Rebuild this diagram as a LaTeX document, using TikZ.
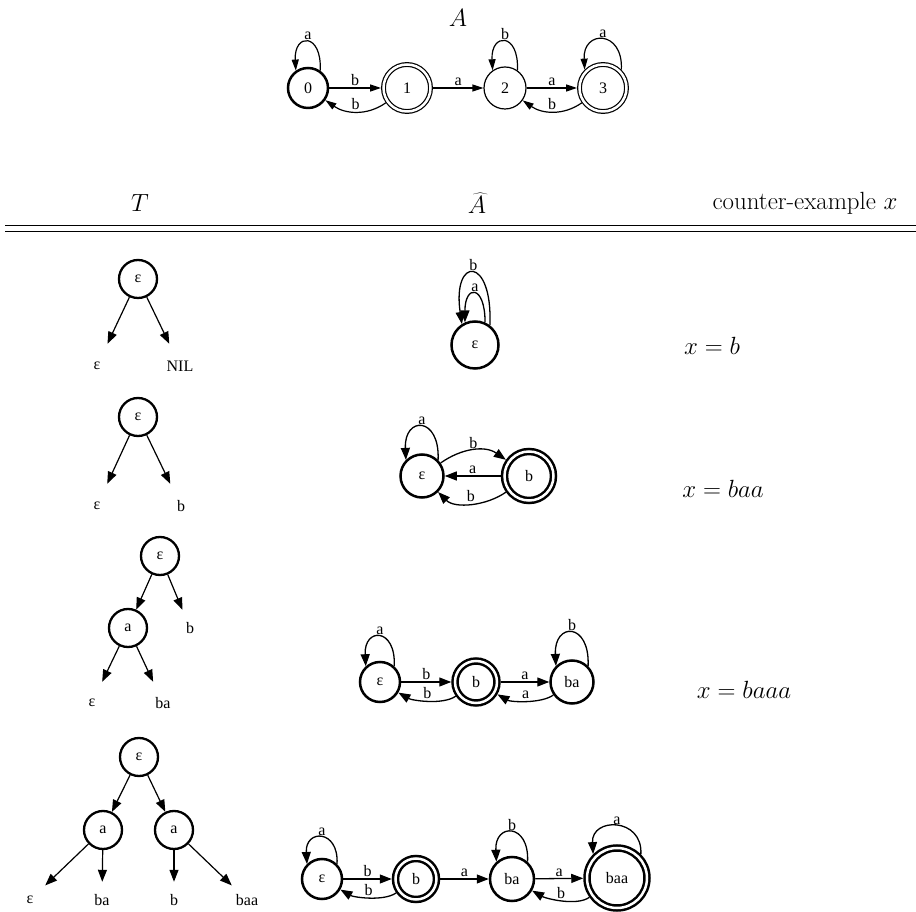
\documentclass[tikz,border=0pt]{standalone}
\usepackage{fontspec}
\usetikzlibrary{arrows.meta, positioning}
\newfontfamily\gvfont{Liberation Serif}

\begin{document}
\begin{tikzpicture}[x=1pt, y=1pt,
  gv/.style={font=\gvfont\fontsize{16}{18}\selectfont},
  hdr/.style={font=\fontsize{24.88}{30}\selectfont},
  lab/.style={gv, inner sep=1.5pt},
  st/.style={circle, draw, line width=1.2pt, minimum size=42pt, inner sep=0pt, gv},
  acc/.style={double, double distance=2.5pt, outer sep=2.45pt},
  hs/.style={circle, draw, line width=2.5pt, inner sep=0pt, gv},
  hacc/.style={double, double distance=2.5pt, outer sep=3.75pt},
  tn/.style={circle, draw, line width=2.3pt, minimum size=38pt, inner sep=0pt, gv},
  leaf/.style={gv, minimum width=30pt, minimum height=#1, inner sep=0pt},
  leaf/.default=44pt,
  edge/.style={line width=1.2pt, -{Triangle[length=11pt, width=7pt]}},
  hedge/.style={line width=1.3pt, -{Triangle[length=12pt, width=9pt]}},
  tedge/.style={line width=1.2pt, -{Triangle[length=12pt, width=9pt]}}]
  \useasboundingbox (0,0) rectangle (916,911);

  % Automaton A
  \node[hdr] (Alab) at (458, 893) {$A$};
  \node[st, line width=2.5pt, minimum size=40pt] (q0) at (308, 823) {0};
  \node[st, acc, minimum size=47pt] (q1) at (407, 823) {1};
  \node[st] (q2) at (505, 823) {2};
  \node[st, acc, minimum size=47pt] (q3) at (603, 823) {3};
  \draw[edge] (q0) -- node[lab, above] {b} (q1);
  \draw[edge] (q1) to[out=215, in=-35] node[lab, above] {b} (q0);
  \draw[edge] (q1) -- node[lab, above] {a} (q2);
  \draw[edge] (q2) -- node[lab, above] {a} (q3);
  \draw[edge] (q3) to[out=215, in=-35] node[lab, above] {b} (q2);
  \draw[edge] (q0.55) .. controls +(2,38) and +(-2,38) .. (q0.125) node[lab, midway, above] {a};
  \draw[edge] (q2.55) .. controls +(2,38) and +(-2,38) .. (q2.125) node[lab, midway, above] {b};
  \draw[edge] (q3.45) .. controls +(2,40) and +(-2,40) .. (q3.135) node[lab, midway, above] {a};

  % Table header
  \node[hdr] (hT) at (140, 708) {$T$};
  \node[hdr] (hA) at (477, 708) {$\widehat{A}$};
  \node[hdr] (hx) at (805, 708) {counter-example $x$};
  \draw[double, double distance=4.7pt, line width=1.3pt] (5, 682.5) -- (916, 682.5);

  % Row 1
  \node[tn] (t1r) at (138, 632) {ε};
  \node[leaf] (t1a) at (97, 545) {ε};
  \node[leaf] (t1b) at (180, 545) {NIL};
  \draw[tedge] (t1r) -- (t1a);
  \draw[tedge] (t1r) -- (t1b);
  \node[hs, minimum size=47pt] (h1e) at (475, 566) {ε};
  \draw[hedge] (h1e.66) .. controls +(0,38) and +(0,38) .. (h1e.114) node[lab, midway, above] {a};
  \draw[hedge] (h1e.53) .. controls +(3,70) and +(-10,68) .. (h1e.122) node[lab, midway, above] {b};
  \node[hdr] (x1) at (712, 565) {$x=b$};

  % Row 2
  \node[tn] (t2r) at (138, 494) {ε};
  \node[leaf] (t2a) at (97, 405) {ε};
  \node[leaf] (t2b) at (181, 405) {b};
  \draw[tedge] (t2r) -- (t2a);
  \draw[tedge] (t2r) -- (t2b);
  \node[hs, minimum size=43pt] (h2e) at (422, 435) {ε};
  \node[hs, hacc, minimum size=49pt] (h2b) at (529, 435) {b};
  \draw[hedge] (h2e) to[out=35, in=145] node[lab, above] {b} (h2b);
  \draw[hedge] (h2b) -- node[lab, above] {a} (h2e);
  \draw[hedge] (h2b) to[out=215, in=-45, looseness=0.9] node[lab, above] {b} (h2e);
  \draw[hedge] (h2e.45) .. controls +(2,44) and +(-2,44) .. (h2e.135) node[lab, midway, above] {a};
  \node[hdr] (x2) at (723, 422) {$x=baa$};

  % Row 3
  \node[tn] (t3r) at (160, 355) {ε};
  \node[tn] (t3a) at (128, 283) {a};
  \node[leaf=36pt] (t3b) at (190, 283) {b};
  \node[leaf=42pt] (t3c) at (92, 208) {ε};
  \node[leaf=42pt] (t3d) at (163, 208) {ba};
  \draw[tedge] (t3r) -- (t3a);
  \draw[tedge] (t3r) -- (t3b);
  \draw[tedge] (t3a) -- (t3c);
  \draw[tedge] (t3a) -- (t3d);
  \node[hs, minimum size=40pt] (h3e) at (380, 229) {ε};
  \node[hs, hacc, minimum size=42pt] (h3b) at (476, 229) {b};
  \node[hs, minimum size=43pt] (h3c) at (572, 229) {ba};
  \draw[hedge] (h3e) -- node[lab, above] {b} (h3b);
  \draw[hedge] (h3b) to[out=215, in=-30, looseness=0.7] node[lab, above] {b} (h3e);
  \draw[hedge] (h3b) -- node[lab, above] {a} (h3c);
  \draw[hedge] (h3c) to[out=215, in=-30, looseness=0.7] node[lab, above] {a} (h3b);
  \draw[hedge] (h3e.48) .. controls +(2,39) and +(-2,39) .. (h3e.132) node[lab, midway, above] {a};
  \draw[hedge] (h3c.45) .. controls +(2,44) and +(-2,44) .. (h3c.135) node[lab, midway, above] {b};
  \node[hdr] (x3) at (744, 221) {$x=baaa$};

  % Row 4
  \node[tn] (t4r) at (139, 154) {ε};
  \node[tn] (t4a) at (103, 81) {a};
  \node[tn] (t4b) at (174, 81) {a};
  \foreach \n/\x/\t in {l1/30/ε, l2/102/ba, l3/174/b, l4/247/baa}
    \node[leaf=36pt] (t4\n) at (\x, 11) {\t};
  \draw[tedge] (t4r) -- (t4a);
  \draw[tedge] (t4r) -- (t4b);
  \draw[tedge] (t4a) -- (t4l1);
  \draw[tedge] (t4a) -- (t4l2);
  \draw[tedge] (t4b) -- (t4l3);
  \draw[tedge] (t4b) -- (t4l4);
  \node[hs, minimum size=40pt] (h4e) at (322, 32) {ε};
  \node[hs, hacc, minimum size=41pt] (h4b) at (416, 32) {b};
  \node[hs, minimum size=44pt] (h4c) at (512, 32) {ba};
  \node[hs, hacc, minimum size=60pt] (h4d) at (617, 33) {baa};
  \draw[hedge] (h4e) -- node[lab, above] {b} (h4b);
  \draw[hedge] (h4b) to[out=215, in=-30, looseness=0.7] node[lab, above] {b} (h4e);
  \draw[hedge] (h4b) -- node[lab, above] {a} (h4c);
  \draw[hedge] (h4c) -- node[lab, above] {a} (h4d);
  \draw[hedge] (h4d) to[out=215, in=-30, looseness=0.7] node[lab, above] {b} (h4c);
  \draw[hedge] (h4e.45) .. controls +(2,35) and +(-2,35) .. (h4e.135) node[lab, midway, above] {a};
  \draw[hedge] (h4c.48) .. controls +(2,39) and +(-2,39) .. (h4c.132) node[lab, midway, above] {b};
  \draw[hedge] (h4d.45) .. controls +(2,37) and +(-2,37) .. (h4d.135) node[lab, midway, above] {a};
\end{tikzpicture}
\end{document}
